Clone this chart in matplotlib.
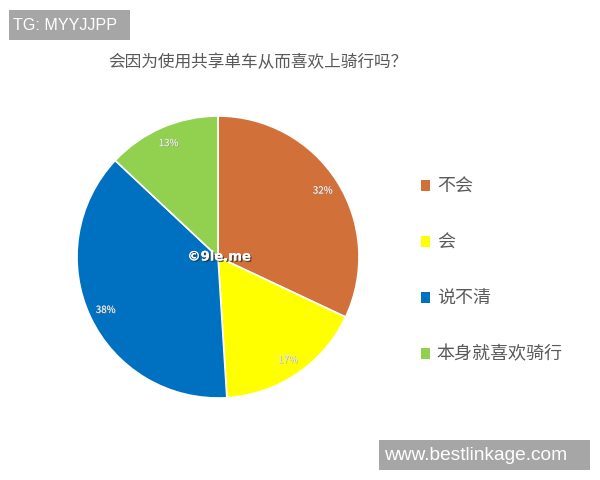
import matplotlib
matplotlib.use("Agg")
import matplotlib.pyplot as plt
import matplotlib.patheffects as pe
from matplotlib.patches import Rectangle

plt.rcParams['font.family'] = ['Noto Sans CJK SC', 'DejaVu Sans']

title = "会因为使用共享单车从而喜欢上骑行吗？"
labels = ["不会", "会", "说不清", "本身就喜欢骑行"]
shares = [32, 17, 38, 13]
colors = ["#D2703A", "#FFFF00", "#0070C0", "#92D050"]

W, H = 600, 480
fig = plt.figure(figsize=(6, 4.8), dpi=100)
fig.patch.set_facecolor("white")

# pie axes: centre ~ (218, 257) px, radius ~140 px
ax = fig.add_axes([(218 - 141) / W, (H - 398) / H, 282 / W, 282 / H])
wedges, texts, autotexts = ax.pie(
    shares, colors=colors, startangle=90, counterclock=False,
    autopct="%d%%", pctdistance=0.88,
    wedgeprops=dict(edgecolor="white", linewidth=1.2),
    textprops=dict(fontsize=7, color="#e6e6e6"),
)
for t in autotexts:
    t.set_path_effects([pe.withSimplePatchShadow(offset=(0.6, -0.6), shadow_rgbFace="#888888", alpha=0.6), pe.Normal()])
ax.set_xlim(-1, 1)
ax.set_ylim(-1, 1)
ax.set_aspect("equal")
ax.axis("off")

# centre watermark
ax.text(0.01, 0.0, "©9le.me", ha="center", va="center", fontsize=9.5,
        fontweight="bold", color="white", family="DejaVu Sans",
        path_effects=[pe.withSimplePatchShadow(offset=(1, -1), shadow_rgbFace="#333333", alpha=0.8), pe.Normal()])

fig.text(258 / W, 1 - 63 / H, title, ha="center", va="center",
         fontsize=12, color="#595959")

leg = fig.legend(wedges, labels, loc="upper left",
                 bbox_to_anchor=(412 / W, 1 - 169 / H), frameon=False,
                 fontsize=13, labelspacing=2.1, handlelength=0.52,
                 handleheight=0.52, handletextpad=0.35, borderpad=0)
for t in leg.get_texts():
    t.set_color("#595959")
for h in leg.legend_handles:
    h.set_edgecolor("none")

# corner watermarks
fig.add_artist(Rectangle((9 / W, 1 - 40 / H), 121 / W, 30 / H, transform=fig.transFigure,
                         facecolor="#a6a6a6", edgecolor="none"))
fig.text(13 / W, 1 - 25.5 / H, "TG: MYYJJPP", ha="left", va="center",
         fontsize=11.6, color="white", family="Liberation Sans")
fig.add_artist(Rectangle((379 / W, 1 - 470 / H), 211 / W, 30 / H, transform=fig.transFigure,
                         facecolor="#a6a6a6", edgecolor="none"))
fig.text(384 / W, 1 - 455 / H, "www.bestlinkage.com", ha="left", va="center",
         fontsize=13.8, color="white", family="Liberation Sans")

fig.savefig("out.png", dpi=100, facecolor="white")
